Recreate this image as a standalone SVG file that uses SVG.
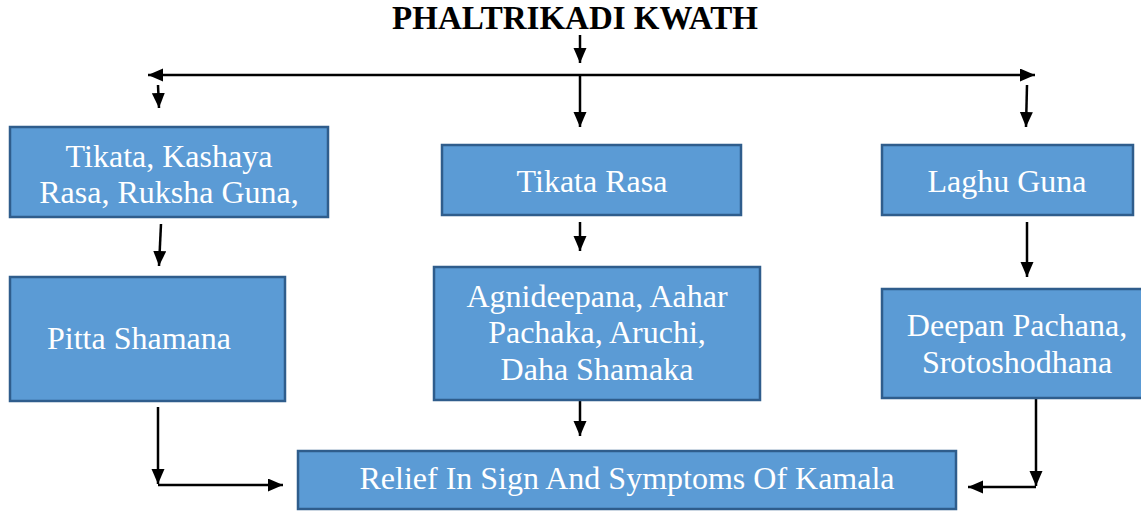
<svg xmlns="http://www.w3.org/2000/svg" width="1141" height="511" viewBox="0 0 1141 511">
<style>
.box{fill:#5B9BD5;stroke:#2F5D8C;stroke-width:2.5}
.t{font-family:'Liberation Serif','Times New Roman',Times,'DejaVu Serif',serif;font-size:32px;fill:#fff;text-anchor:middle}
.title{font-family:'Liberation Serif','Times New Roman',Times,'DejaVu Serif',serif;font-size:33px;font-weight:bold;fill:#000;text-anchor:middle}
.c{stroke:#000;stroke-width:2.5;fill:none}
</style>
<defs>
<marker id="ah" markerUnits="userSpaceOnUse" markerWidth="16" markerHeight="14" refX="15" refY="6.5" orient="auto-start-reverse" viewBox="0 0 16 14">
<path d="M0,0 L15,6.5 L0,13 z" fill="#000"/>
</marker>
</defs>
<rect width="1141" height="511" fill="#fff"/>
<g id="title"><text class="title" x="575" y="29">PHALTRIKADI KWATH</text></g>
<g id="connectors">
<line class="c" x1="580" y1="35" x2="580" y2="63" marker-end="url(#ah)"/>
<line class="c" x1="148" y1="75" x2="1035" y2="75" marker-start="url(#ah)" marker-end="url(#ah)"/>
<line class="c" x1="580" y1="75" x2="580" y2="127" marker-end="url(#ah)"/>
<line class="c" x1="158" y1="85" x2="159" y2="108" marker-end="url(#ah)"/>
<line class="c" x1="1027" y1="85" x2="1026" y2="127" marker-end="url(#ah)"/>
<line class="c" x1="161" y1="224" x2="159" y2="266" marker-end="url(#ah)"/>
<line class="c" x1="580" y1="222" x2="580" y2="251" marker-end="url(#ah)"/>
<line class="c" x1="1027" y1="222" x2="1027" y2="277" marker-end="url(#ah)"/>
<line class="c" x1="158" y1="407" x2="158" y2="484" marker-end="url(#ah)"/>
<line class="c" x1="158" y1="485" x2="283" y2="485" marker-end="url(#ah)"/>
<line class="c" x1="580" y1="400" x2="580" y2="436" marker-end="url(#ah)"/>
<line class="c" x1="1036" y1="398" x2="1036" y2="486" marker-end="url(#ah)"/>
<line class="c" x1="1036" y1="487" x2="968" y2="487" marker-end="url(#ah)"/>
</g>
<g id="n1"><rect class="box" x="10" y="127" width="318" height="90"/>
<text class="t" x="169" y="167">Tikata, Kashaya</text><text class="t" x="169" y="203">Rasa, Ruksha Guna,</text></g>
<g id="n2"><rect class="box" x="442" y="145" width="299" height="70"/>
<text class="t" x="592" y="192">Tikata Rasa</text></g>
<g id="n3"><rect class="box" x="882" y="145" width="251" height="70"/>
<text class="t" x="1007" y="192">Laghu Guna</text></g>
<g id="n4"><rect class="box" x="10" y="277" width="275" height="124"/>
<text class="t" x="139" y="349">Pitta Shamana</text></g>
<g id="n5"><rect class="box" x="434" y="267" width="326" height="133"/>
<text class="t" x="597" y="307">Agnideepana, Aahar</text><text class="t" x="597" y="343">Pachaka, Aruchi,</text><text class="t" x="597" y="380">Daha Shamaka</text></g>
<g id="n6"><rect class="box" x="882" y="289" width="262" height="109"/>
<text class="t" x="1017" y="336">Deepan Pachana,</text><text class="t" x="1017" y="373">Srotoshodhana</text></g>
<g id="n7"><rect class="box" x="298" y="451" width="658" height="58"/>
<text class="t" x="627" y="489">Relief In Sign And Symptoms Of Kamala</text></g>
</svg>
